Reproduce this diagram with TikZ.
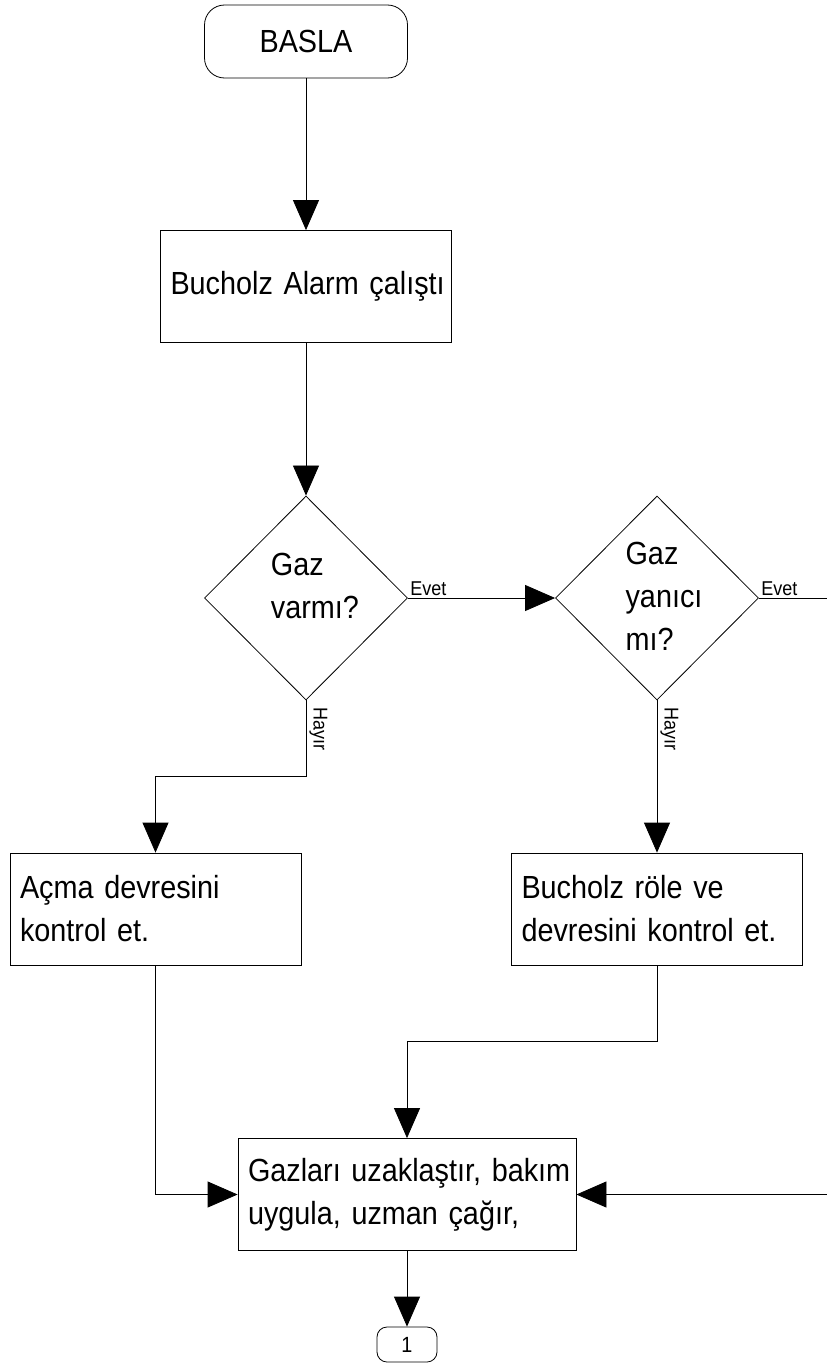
\documentclass[tikz,border=0pt]{standalone}
\usepackage{fontspec}
\setmainfont{Liberation Sans}[FakeStretch=0.9]
\usetikzlibrary{shapes.geometric,arrows.meta}

\begin{document}
\begin{tikzpicture}[x=1pt,y=-1pt,line width=0.8pt,
  every node/.style={font=\fontsize{32}{43}\selectfont},
  islem/.style={draw,align=left,minimum height=112pt,inner xsep=10pt,text width=271pt},
  karar/.style={draw,diamond,minimum width=203pt,minimum height=204pt,inner sep=0pt},
  bitis/.style={draw,rounded corners=20pt,minimum width=203pt,minimum height=73pt},
  baglanti/.style={draw,rounded corners=10pt,minimum width=60pt,minimum height=35pt,font=\fontsize{22}{24}\selectfont},
  etiket/.style={font=\fontsize{20}{22}\selectfont,inner sep=2pt},
  ok/.style={-{Triangle[width=26pt,length=30pt]}}]
\useasboundingbox (0,0) rectangle (827,1365);
\node[bitis] (basla) at (306,41.5) {BASLA};
\node[islem] (alarm) at (306,286.5) {\mbox{Bucholz Alarm çalıştı}};
\node[karar] (gaz) at (306,598) {};
\node[align=left] (gazyazi) at (315,585.5) {Gaz\\varmı?};
\node[karar] (yanici) at (657,598) {};
\node[align=left] (yaniciyazi) at (664,596.5) {Gaz\\yanıcı\\mı?};
\node[islem] (acma) at (155.5,909) {\mbox{Açma devresini}\\\mbox{kontrol et.}};
\node[islem] (role) at (657,909) {\mbox{Bucholz röle ve}\\\mbox{devresini kontrol et.}};
\node[islem,text width=318pt] (gazlari) at (407,1194.5) {\mbox{Gazları uzaklaştır, bakım}\\\mbox{uygula, uzman çağır,}};
\node[baglanti] (bag) at (407,1344.5) {1};
\node[etiket,anchor=south west] (evet1) at (gaz.east) {Evet};
\node[etiket,anchor=south west] (evet2) at (yanici.east) {Evet};
\node[etiket,rotate=-90,anchor=south west] (hayir1) at ([shift={(1,5)}]gaz.south) {Hayır};
\node[etiket,rotate=-90,anchor=south west] (hayir2) at ([shift={(1,5)}]yanici.south) {Hayır};
\coordinate (sag) at (835,598);
\draw[ok] (basla) -- (alarm);
\draw[ok] (alarm) -- (gaz);
\draw[ok] (gaz) -- (yanici);
\draw[ok] (gaz.south) -- ++(0,76) -| (acma.north);
\draw[ok] (yanici) -- (role);
\draw[ok] (role.south) -- ++(0,76) -| (gazlari.north);
\draw[ok] (acma.south) |- (gazlari.west);
\draw[ok] (yanici.east) -- (sag) |- (gazlari.east);
\draw[ok] (gazlari) -- (bag);
\end{tikzpicture}
\end{document}
